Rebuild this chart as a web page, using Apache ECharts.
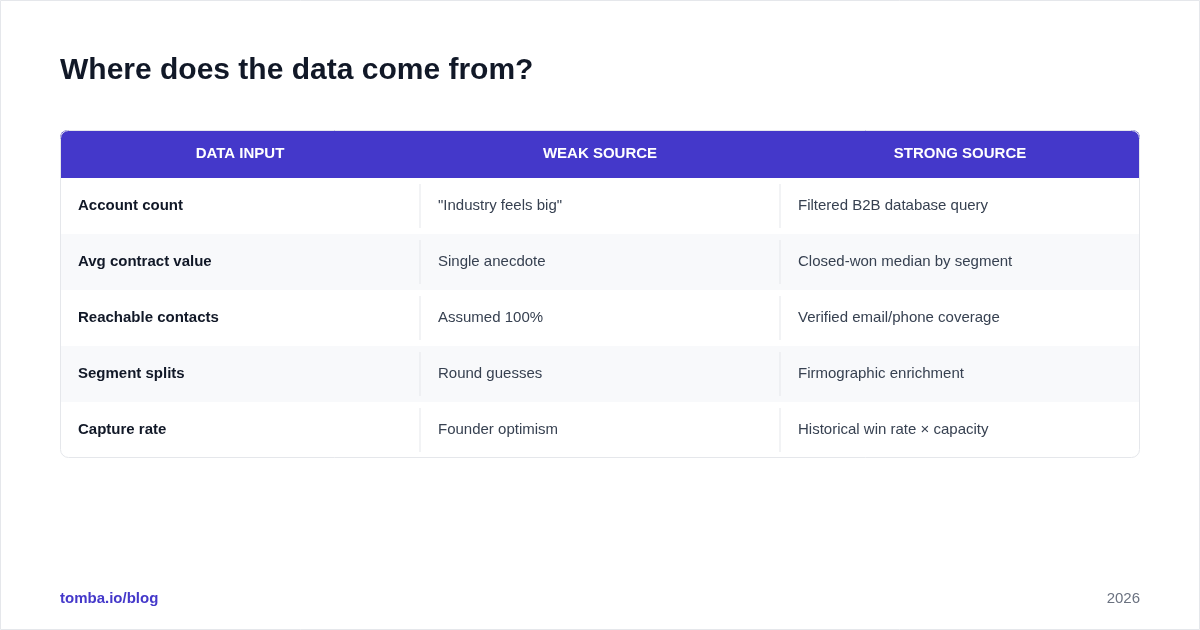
<!DOCTYPE html>
<html lang="en">
<head>
  <meta charset="UTF-8">
  <title>Where does the data come from?</title>
  <style>
    html, body { margin: 0; padding: 0; background: #fff; }
    #chart { width: 1200px; height: 630px; }
  </style>
  <script src="https://cdn.jsdelivr.net/npm/echarts@6/dist/echarts.min.js"></script>
</head>
<body>
  <div id="chart"></div>
</body>
</html>
<script>
  // table content
  var headers = ['DATA INPUT', 'WEAK SOURCE', 'STRONG SOURCE'];
  var inputs = ['Account count', 'Avg contract value', 'Reachable contacts', 'Segment splits', 'Capture rate'];
  var weakSources = ['"Industry feels big"', 'Single anecdote', 'Assumed 100%', 'Round guesses', 'Founder optimism'];
  var strongSources = ['Filtered B2B database query', 'Closed-won median by segment', 'Verified email/phone coverage', 'Firmographic enrichment', 'Historical win rate \u00d7 capacity'];

  var FONT = '"Liberation Sans", Arial, sans-serif';
  var columns = [inputs, weakSources, strongSources];
  var cells = [];
  columns.forEach(function (col, c) {
    col.forEach(function (txt, r) { cells.push([c, r, txt]); });
  });

  var myChart = echarts.init(document.getElementById('chart'));

  var option = {
    backgroundColor: '#fff',
    animation: false,
    grid: { left: 60, right: 60, top: 178, height: 280 },
    xAxis: { type: 'category', data: headers, show: false },
    yAxis: { type: 'category', data: inputs, inverse: true, show: false },
    graphic: [
      { type: 'rect', shape: { x: 0.5, y: 0.5, width: 1199, height: 629 },
        style: { fill: 'none', stroke: '#e5e7eb', lineWidth: 1 }, z: 1 },
      { type: 'text', left: 60, top: 56,
        style: { text: 'Where does the data come from?', font: 'bold 30px ' + FONT, fill: '#111827' } },
      { type: 'rect', shape: { x: 60, y: 130, width: 1080, height: 48, r: [8, 8, 0, 0] },
        style: { fill: '#4438ca' } },
      { type: 'rect', shape: { x: 60.5, y: 130.5, width: 1079, height: 327, r: 8 },
        style: { fill: 'none', stroke: '#e5e7eb', lineWidth: 1 }, z: 50 },
      { type: 'text', left: 60, top: 591,
        style: { text: 'tomba.io/blog', font: 'bold 15px ' + FONT, fill: '#4438ca' } },
      { type: 'text', right: 60, top: 591,
        style: { text: '2026', font: '15px ' + FONT, fill: '#6b7280' } }
    ].concat(headers.map(function (h, i) {
      return { type: 'text', x: 60 + 360 * i + 180, y: 154,
        style: { text: h, font: 'bold 15px ' + FONT, fill: '#ffffff', align: 'center', verticalAlign: 'middle' } };
    })),
    series: [{
      type: 'custom',
      data: cells,
      renderItem: function (params, api) {
        var c = api.value(0), r = api.value(1);
        var center = api.coord([c, r]);
        var size = api.size([1, 1]);
        var x0 = center[0] - size[0] / 2, y0 = center[1] - size[1] / 2;
        var children = [];
        if (r % 2 === 1) {
          children.push({ type: 'rect', shape: { x: x0, y: y0, width: size[0], height: size[1] },
            style: { fill: '#f8f9fb' } });
        }
        if (c > 0) {
          children.push({ type: 'line', shape: { x1: x0, y1: y0 + 6, x2: x0, y2: y0 + size[1] - 6 },
            style: { stroke: '#e5e7eb', lineWidth: 1 } });
        }
        children.push({ type: 'text', x: x0 + 18, y: center[1],
          style: { text: cells[params.dataIndex][2],
            font: (c === 0 ? 'bold ' : '') + '15px ' + FONT,
            fill: c === 0 ? '#111827' : '#374151', verticalAlign: 'middle' } });
        return { type: 'group', children: children };
      }
    }]
  };

  myChart.setOption(option);
</script>
